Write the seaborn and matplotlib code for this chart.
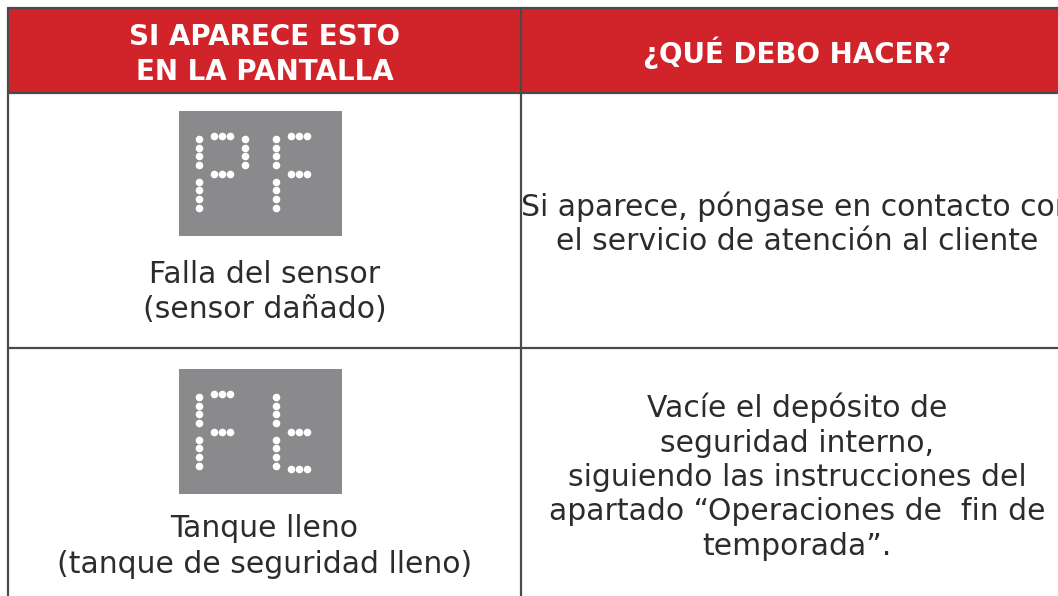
import matplotlib
matplotlib.use("Agg")
import matplotlib.pyplot as plt
import matplotlib.patches as mpatches
import pandas as pd
import seaborn as sns

# table content
headers = [["SI APARECE ESTO", "EN LA PANTALLA"], ["¿QUÉ DEBO HACER?"]]
display_codes = ["PF", "Ft"]
left_texts = [["Falla del sensor", "(sensor dañado)"],
              ["Tanque lleno", "(tanque de seguridad lleno)"]]
right_texts = [["Si aparece, póngase en contacto con", "el servicio de atención al cliente"],
               ["Vacíe el depósito de", "seguridad interno,", "siguiendo las instrucciones del",
                "apartado “Operaciones de  fin de", "temporada”."]]

# which segments of the dot display are lit for each character
segments = {
    "P": ["a", "b", "f", "g", "e"],
    "F": ["a", "f", "g", "e"],
    "t": ["f", "e", "g", "d"],
}

RED = "#d0232a"
BOX = "#8a8a8c"
LINE = "#4a4a4a"
TXT = "#2c2c2c"

sns.set_theme(style="white")
plt.rcParams["font.family"] = ["DejaVu Sans"]

W, H = 1058, 596
fig = plt.figure(figsize=(W / 100, H / 100), dpi=100)
ax = fig.add_axes([0, 0, 1, 1])
ax.set_xlim(0, W)
ax.set_ylim(H, 0)
ax.axis("off")

x0, xmid, x1 = 8, 521, 1075
y0, yhead, yrow, y1 = 8, 93, 348, 610
col_c = [(x0 + xmid) / 2, 797]


def lines(x, base, gap, texts, **kw):
    for i, t in enumerate(texts):
        ax.text(x, base + i * gap, t, ha="center", va="baseline", **kw)


# header
ax.add_patch(mpatches.Rectangle((x0, y0), x1 - x0, yhead - y0, facecolor=RED, edgecolor="none"))
hkw = dict(color="white", fontsize=20, fontweight="bold")
lines(col_c[0], 45, 35, headers[0], **hkw)
lines(col_c[1], 63, 35, headers[1], **hkw)

# grid lines
lw = 1.6
ax.plot([x0, x1], [y0, y0], color=LINE, lw=lw)
ax.plot([x0, x1], [yhead, yhead], color=LINE, lw=lw)
ax.plot([x0, x1], [yrow, yrow], color=LINE, lw=lw)
ax.plot([x0, x0], [y0, y1], color=LINE, lw=lw)
ax.plot([xmid, xmid], [y0, y1], color=LINE, lw=lw)


# dot displays
def seg_dots(seg, dx):
    cols = [dx, dx + 14.5, dx + 22.5, dx + 31, dx + 46]
    up = [28, 36.5, 45, 53.5]
    lo = [70.5, 79, 88, 96.5]
    if seg == "a":
        return [(x, 25) for x in cols[1:4]]
    if seg == "g":
        return [(x, 62.5) for x in cols[1:4]]
    if seg == "d":
        return [(x, 100) for x in cols[1:4]]
    if seg == "f":
        return [(cols[0], y) for y in up]
    if seg == "e":
        return [(cols[0], y) for y in lo]
    if seg == "b":
        return [(cols[4], y) for y in up]
    if seg == "c":
        return [(cols[4], y) for y in lo]


box_x, box_w, box_h = 179, 163, 125
box_ys = [111, 369]
rows = []
for code, by in zip(display_codes, box_ys):
    ax.add_patch(mpatches.Rectangle((box_x, by), box_w, box_h, facecolor=BOX, edgecolor="none"))
    for i, ch in enumerate(code):
        dx = [20, 97][i]
        for s in segments[ch]:
            for px, py in seg_dots(s, dx):
                rows.append({"x": box_x + px, "y": by + py})
dots = pd.DataFrame(rows)
sns.scatterplot(data=dots, x="x", y="y", ax=ax, color="white", s=30, linewidth=0, legend=False)

# body text
bkw = dict(color=TXT, fontsize=21.5)
lines(col_c[0], 283, 35.5, left_texts[0], **bkw)
lines(col_c[0], 537, 36, left_texts[1], **bkw)
lines(col_c[1], 216, 34, right_texts[0], **bkw)
lines(col_c[1], 417, 34.5, right_texts[1], **bkw)

ax.set_xlim(0, W)
ax.set_ylim(H, 0)
fig.savefig("out.png", dpi=100)
